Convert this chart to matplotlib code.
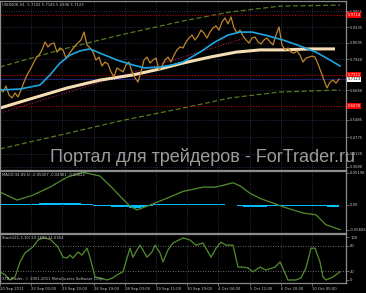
import numpy as np
import matplotlib
matplotlib.use('Agg')
import matplotlib.pyplot as plt
import matplotlib.transforms as mtrans

# ---- data (USDNOK H1, MT4) ----
# close prices, one reading every 3 hourly bars
price_bars = np.arange(0, 340, 3)
price_close = [5.677, 5.661, 5.685, 5.649, 5.637, 5.657, 5.641, 5.669, 5.701, 5.730,
               5.750, 5.774, 5.798, 5.810, 5.831, 5.863, 5.843, 5.855, 5.859, 5.822,
               5.839, 5.831, 5.798, 5.814, 5.831, 5.847, 5.859, 5.871, 5.903, 5.851,
               5.839, 5.822, 5.790, 5.802, 5.766, 5.782, 5.774, 5.742, 5.722, 5.758,
               5.750, 5.742, 5.770, 5.782, 5.742, 5.718, 5.701, 5.742, 5.790, 5.802,
               5.778, 5.790, 5.798, 5.750, 5.766, 5.790, 5.802, 5.782, 5.810, 5.831,
               5.843, 5.839, 5.863, 5.879, 5.891, 5.871, 5.887, 5.911, 5.899, 5.879,
               5.903, 5.920, 5.928, 5.911, 5.944, 5.960, 5.936, 5.964, 5.920, 5.899,
               5.911, 5.887, 5.871, 5.859, 5.879, 5.883, 5.863, 5.855, 5.871, 5.879,
               5.863, 5.851, 5.891, 5.924, 5.851, 5.831, 5.839, 5.822, 5.818, 5.827,
               5.810, 5.782, 5.798, 5.802, 5.806, 5.802, 5.774, 5.742, 5.709, 5.677,
               5.701, 5.709, 5.697, 5.713]

ma_fast_bars = [0, 20, 40, 50, 60, 70, 80, 90, 100, 117, 133, 145, 160, 172, 183,
                200, 215, 228, 240, 252, 265, 283, 300, 316, 330, 340]
ma_fast = [5.669, 5.673, 5.689, 5.730, 5.778, 5.810, 5.827, 5.835, 5.818, 5.790, 5.770,
           5.758, 5.762, 5.770, 5.782, 5.822, 5.863, 5.891, 5.903, 5.903, 5.891, 5.871,
           5.847, 5.822, 5.790, 5.766]

ma_slow_bars = [0, 27, 67, 100, 133, 160, 183, 210, 236, 260, 283, 310, 335]
ma_slow = [5.596, 5.629, 5.677, 5.709, 5.730, 5.754, 5.778, 5.802, 5.822, 5.831, 5.831,
           5.835, 5.835]

band_bars = [0, 60, 120, 183, 230, 280, 340]
band_upper = [5.762, 5.831, 5.891, 5.948, 5.984, 6.008, 6.012]
band_lower = [5.431, 5.487, 5.544, 5.596, 5.637, 5.661, 5.669]

trend_bars = [0, 245]
trend_line = [5.576, 5.879]

levels = [5.9714, 5.7290, 5.6050]
level_labels = ['5.9714', '5.7311', '5.6070']
last_price = 5.7123

price_ticks = [5.9865, 5.9235, 5.8595, 5.7940, 5.6680, 5.5485, 5.4775, 5.4120, 5.3580]
price_tick_labels = ['5.9865', '5.9235', '5.8595', '5.7940', '5.6680', '5.5485',
                     '5.4775', '5.4120', '5.3580']

macd_bars = [0, 17, 33, 50, 67, 83, 100, 112, 122, 130, 137, 150, 167, 183, 203, 216,
             233, 240, 250, 261, 270, 283, 303, 316, 326, 340]
macd_main = [0.021, 0.008, 0.016, 0.029, 0.045, 0.053, 0.047, 0.028, 0.011, -0.002,
             -0.008, 0.000, 0.011, 0.022, 0.029, 0.029, 0.036, 0.031, 0.019, 0.010,
             0.005, -0.003, -0.013, -0.016, -0.032, -0.040]
hist_bars = np.arange(0, 340, 6)
macd_hist = [0.0015, 0.0015, 0.002, 0.002, 0.0015, 0.001, 0.001,
             0.0025, 0.003, 0.0035, 0.0035, 0.003, 0.003, 0.0025, 0.002, 0.0015,
             -0.001, -0.0015, -0.002, -0.0025, -0.003, -0.0035,
             -0.0045, -0.005, -0.004, -0.002,
             0.001, 0.0015, 0.002, 0.002, 0.002,
             0.0015, 0.001, 0.001, 0.001, 0.0015, 0.0015, 0.001, 0.0005, 0.0,
             -0.002, -0.003, -0.0035, -0.003, -0.0025, -0.002, -0.0015,
             -0.001, -0.0015, -0.002, -0.002, -0.002, -0.0015, -0.001, -0.002, -0.004, -0.003]
macd_ticks = [0.0519, 0.0, -0.0405]
macd_tick_labels = ['0.05198', '0.00', '-0.05685']

stoch_bars = [0, 5, 10, 15, 20, 25, 33, 38, 43, 50, 58, 63, 67, 70, 73, 78, 82, 87, 90,
              95, 100, 107, 113, 117, 123, 127, 130, 133, 137, 140, 147, 152, 155, 160,
              163, 168, 173, 183, 190, 196, 203, 211, 216, 221, 226, 233, 238, 243, 248,
              253, 260, 266, 275, 280, 285, 288, 296, 301, 306, 311, 315, 320, 323, 326,
              333, 340]
stoch_main = [19, 12, 0, 7, 42, 63, 77, 93, 98, 95, 77, 53, 51, 58, 51, 65, 58, 74, 53,
              7, 5, 0, 5, 12, 19, 51, 74, 53, 70, 81, 53, 65, 81, 63,
              42, 70, 86, 98, 93, 81, 86, 53, 74, 88, 81, 81, 30, 30, 28,
              19, 30, 23, 30, 42, 16, 0, 0, 5, 28, 74, 74, 42, 7, 0,
              7, 19]

time_pos = [0, 31, 62, 94, 125, 156, 187, 218, 250, 281, 312]
time_labels = ['20 Sep 2011', '22 Sep 02:00', '23 Sep 10:00', '26 Sep 19:00',
               '28 Sep 03:00', '29 Sep 11:00', '30 Sep 19:00', '4 Oct 04:00',
               '5 Oct 12:00', '6 Oct 20:00', '10 Oct 05:00']

# ---- figure ----
W, H = 366, 293
fig = plt.figure(figsize=(W / 100, H / 100), dpi=100, facecolor='black')
small = 2.7
txt_col = '#c8c8c8'
frame = '#8c8c8c'
grid_col = '#34345c'


def px_axes(x0, y0, x1, y1):
    return fig.add_axes([x0 / W, 1 - y1 / H, (x1 - x0) / W, (y1 - y0) / H])


def px_text(x, y, s, **kw):
    fig.text(x / W, 1 - y / H, s, va='center', **kw)


ax = px_axes(0, 1, 346, 170)
ax_m = px_axes(0, 171, 346, 233)
ax_s = px_axes(0, 234, 346, 283)

for a in (ax, ax_m, ax_s):
    a.set_facecolor('black')
    for s in a.spines.values():
        s.set_color(frame)
        s.set_linewidth(0.9)
    a.set_xlim(0, 346)
    a.yaxis.tick_right()
    a.tick_params(axis='y', colors=frame, labelcolor=txt_col, labelsize=small,
                  length=2, width=0.5, pad=1)
    a.set_xticks(time_pos)
    a.tick_params(axis='x', colors=frame, labelcolor=txt_col, labelsize=small,
                  length=2, width=0.5, pad=1)
    a.grid(True, axis='x', linestyle=':', color=grid_col, linewidth=0.6)

# main window
ax.set_ylim(5.3458, 6.0286)
ax.set_yticks(price_ticks)
ax.set_yticklabels(price_tick_labels)
ax.grid(True, axis='y', linestyle=':', color=grid_col, linewidth=0.6)
ax.set_xticklabels([])
ax.tick_params(axis='x', length=0)

ax.plot(band_bars, band_upper, color='#557a1f', lw=0.9, ls=(0, (4, 2)))
ax.plot(band_bars, band_lower, color='#557a1f', lw=0.9, ls=(0, (4, 2)))
for lv in levels:
    ax.axhline(lv, color='#c00000', lw=0.8, ls=(0, (1, 1.5)))
ax.axhline(last_price, color='#202070', lw=0.8)
ax.plot(trend_bars, trend_line, color='#b0204a', lw=0.8, ls=(0, (1, 1.5)))
ax.plot(ma_slow_bars, ma_slow, color='#f5deb3', lw=2.2, solid_capstyle='butt')
ax.plot(price_bars, price_close, color='#c0862a', lw=0.9)
ax.plot(ma_fast_bars, ma_fast, color='#1ea7e0', lw=1.2)

yt = mtrans.blended_transform_factory(ax.transAxes, ax.transData)
for lv, lab in zip(levels, level_labels):
    ax.text(1.004, lv, lab, transform=yt, fontsize=small, color='white', va='center',
            ha='left', clip_on=False,
            bbox=dict(facecolor='#ff0000', edgecolor='none', pad=0.5))
ax.text(1.004, last_price, '5.7123', transform=yt, fontsize=small, color='black',
        va='center', ha='left', clip_on=False,
        bbox=dict(facecolor='white', edgecolor='none', pad=0.5))

# MACD window
ax_m.set_ylim(-0.0454, 0.0551)
ax_m.set_yticks(macd_ticks)
ax_m.set_yticklabels(macd_tick_labels)
ax_m.set_xticklabels([])
ax_m.tick_params(axis='x', length=0)
ax_m.bar(hist_bars, macd_hist, width=6, color='#00bfff', linewidth=0)
ax_m.plot(macd_bars, macd_main, color='#2fa02f', lw=0.9)
ax_m.plot(macd_bars, macd_main, color='#ff2020', lw=0.6, ls=(0, (1, 3)))

# Stochastic window
ax_s.set_ylim(-7, 107)
ax_s.set_yticks([100, 80, 20, 0])
ax_s.set_yticklabels(['100', '80', '20', '0'])
for lv in (80, 20):
    ax_s.axhline(lv, color='#909090', lw=0.6, ls=(0, (1, 2)))
ax_s.plot(stoch_bars, stoch_main, color='#2fa02f', lw=0.9)
ax_s.plot(stoch_bars, stoch_main, color='#ff2020', lw=0.6, ls=(0, (1, 3)))
ax_s.set_xticklabels(time_labels)
for t in ax_s.get_xticklabels():
    t.set_ha('left')

# window captions
px_text(2, 5, 'USDNOK,H1  5.7102 5.7145 5.6936 5.7123', fontsize=small, color=txt_col)
px_text(2, 175, 'MACD(34,89,5) -0.05007 -0.04961 -0.00022', fontsize=small, color=txt_col)
px_text(2, 238, 'Stoch(21,3,10) 20.1699 24.6354', fontsize=small, color=txt_col)
px_text(2, 279, 'XTB-Trader, \u00a9 2001-2011 MetaQuotes Software Corp.', fontsize=small,
        color=txt_col)

# watermark
px_text(203, 157, 'Портал для трейдеров - ForTrader.ru', fontsize=13, ha='center',
        family='Liberation Sans', color='#9c9c9c')

fig.savefig('out.png', dpi=100, facecolor='black')
